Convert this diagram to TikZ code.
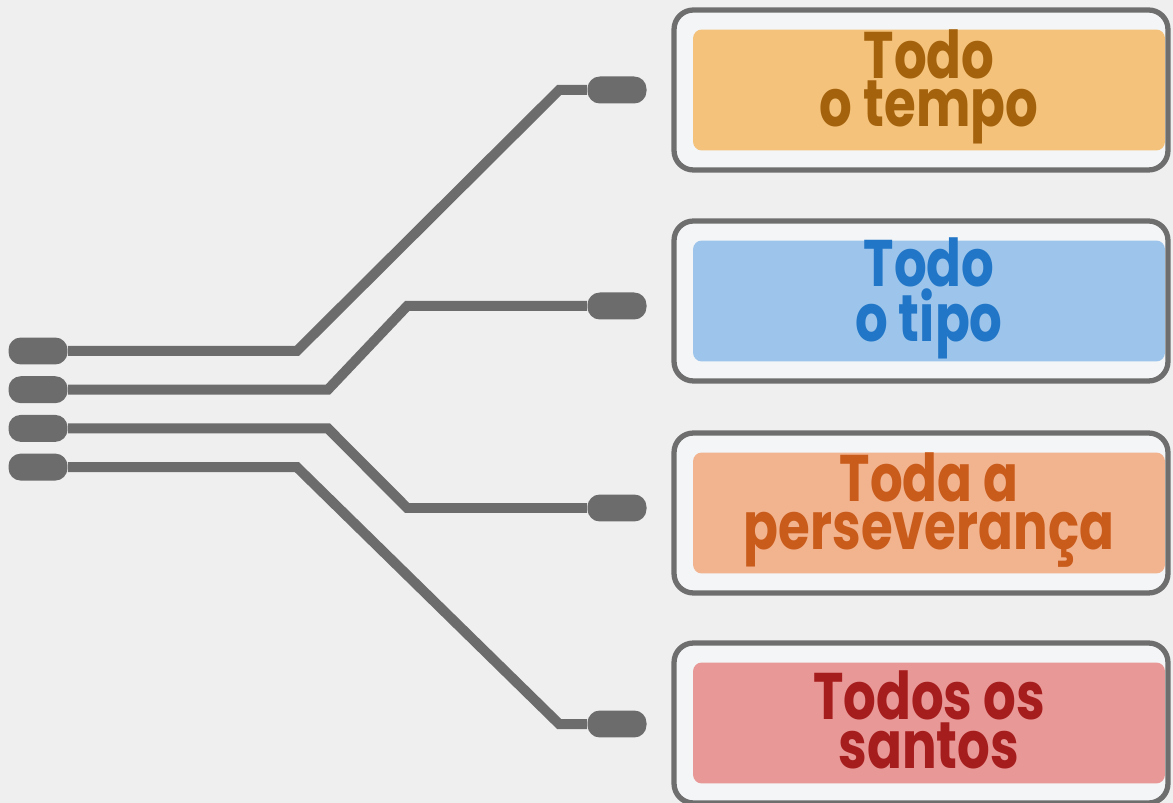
\documentclass[tikz,border=0pt]{standalone}
\usepackage{fontspec}
\usetikzlibrary{positioning,calc}
\newfontfamily\boxfont{Poppins}[FakeStretch=0.78]
\definecolor{bgcol}{HTML}{EFEFEF}
\definecolor{wirecol}{HTML}{6C6C6C}
\definecolor{framecol}{HTML}{6E6E6E}
\definecolor{innercol}{HTML}{F3F5F7}
\definecolor{tempoFill}{HTML}{F4C27A}
\definecolor{tempoText}{HTML}{A4620C}
\definecolor{tipoFill}{HTML}{9DC5EB}
\definecolor{tipoText}{HTML}{2176C7}
\definecolor{persFill}{HTML}{F2B38F}
\definecolor{persText}{HTML}{C95B1B}
\definecolor{santosFill}{HTML}{E89896}
\definecolor{santosText}{HTML}{A51D1D}
\tikzset{
  plug/.style={fill=wirecol, rounded corners=7pt, inner sep=0pt,
    minimum width=1.18cm, minimum height=0.54cm},
  framebox/.style={draw=framecol, line width=3pt, fill=innercol,
    rounded corners=11pt, minimum width=9.88cm, minimum height=3.2cm},
  tagbox/.style={fill=#1, rounded corners=5pt, inner sep=0pt,
    minimum width=9.44cm, minimum height=2.42cm},
  tagtext/.style={align=center, inner sep=0pt,
    font=\boxfont\bfseries\fontsize{37.5}{27.5}\selectfont},
  wire/.style={draw=wirecol, line width=0.2cm, line join=miter}
}

\begin{document}
\begin{tikzpicture}[x=0.02cm, y=-0.02cm]
  \fill[bgcol] (0,0) rectangle (1173,803);
  \useasboundingbox (0,0) rectangle (1173,803);

  \node[framebox] (f1) at (921,90) {};
  \node[framebox] (f2) at (921,301) {};
  \node[framebox] (f3) at (921,513) {};
  \node[framebox] (f4) at (921,723) {};

  \node[tagbox=tempoFill] (t1) at ($(f1.center)+(8,0)$) {};
  \node[tagbox=tipoFill] (t2) at ($(f2.center)+(8,0)$) {};
  \node[tagbox=persFill] (t3) at ($(f3.center)+(8,0)$) {};
  \node[tagbox=santosFill] (t4) at ($(f4.center)+(8,0)$) {};

  \node[tagtext, text=tempoText] (l1) at ($(t1.center)+(0,-3)$) {Todo\\o tempo};
  \node[tagtext, text=tipoText] (l2) at ($(t2.center)+(0,-3)$) {Todo\\o tipo};
  \node[tagtext, text=persText] (l3) at ($(t3.center)+(0,-3)$) {Toda a\\perseverança};
  \node[tagtext, text=santosText] (l4) at ($(t4.center)+(0,-3)$) {Todos os\\santos};

  \node[plug] (in1) at (38,351) {};
  \node[plug, below=0.22cm of in1] (in2) {};
  \node[plug, below=0.22cm of in2] (in3) {};
  \node[plug, below=0.22cm of in3] (in4) {};

  \node[plug] (out1) at (617,90) {};
  \node[plug] (out2) at (617,306) {};
  \node[plug] (out3) at (617,508) {};
  \node[plug] (out4) at (617,724) {};

  \draw[wire] (in1.east) -- ++(229,0) -- ($(out1.west)+(-28,0)$) -- (out1.west);
  \draw[wire] (in2.east) -- ++(260,0) -- ($(out2.west)+(-180,0)$) -- (out2.west);
  \draw[wire] (in3.east) -- ++(260,0) -- ($(out3.west)+(-180,0)$) -- (out3.west);
  \draw[wire] (in4.east) -- ++(229,0) -- ($(out4.west)+(-28,0)$) -- (out4.west);
\end{tikzpicture}
\end{document}
